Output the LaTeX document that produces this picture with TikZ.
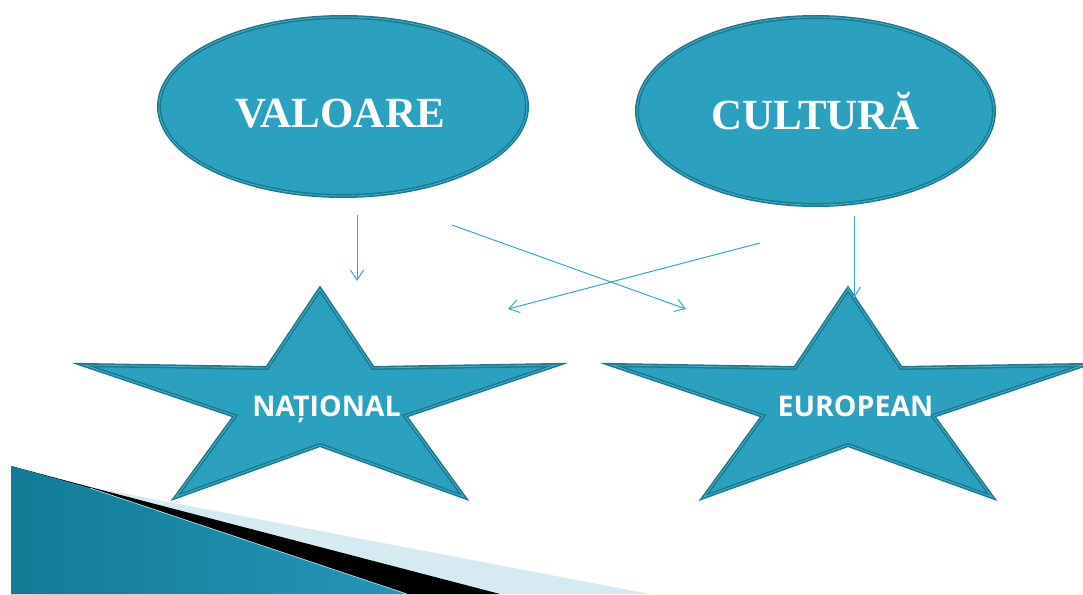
\documentclass[tikz,border=0pt]{standalone}
\usepackage{fontspec}
\usetikzlibrary{shapes.geometric,arrows.meta}
\newfontfamily\titlefont{Liberation Serif}
\newfontfamily\labelfont{Open Sans}
\definecolor{tealfill}{HTML}{2CA1BF}
\definecolor{tealdark}{HTML}{1E7A91}
\definecolor{teallight}{HTML}{45ADC8}
\definecolor{arrowcol}{HTML}{3AA7C6}
\definecolor{bandlight}{HTML}{D6EAF2}
\definecolor{wedgedark}{HTML}{127C97}
\definecolor{wedgelight}{HTML}{52B7D8}
\definecolor{wedgemid}{HTML}{2595B7}
\begin{document}
\begin{tikzpicture}[x=1pt,y=-1pt,
  shapeline/.style={fill=tealfill,draw=tealdark,double=teallight,line width=1.6pt,double distance=0.8pt},
  ovalnode/.style={shapeline,ellipse,inner sep=0pt},
  titletext/.style={text=white,font=\titlefont\bfseries\fontsize{43}{43}\selectfont,inner sep=0pt,anchor=base},
  startext/.style={text=white,font=\labelfont\bfseries\fontsize{28.5}{28.5}\selectfont,inner sep=0pt,anchor=base},
  linkarrow/.style={draw=arrowcol,line width=1pt,-{Straight Barb[length=10pt,width=13pt]}}]
\useasboundingbox (0,0) rectangle (1083,594);
\fill[white] (0,0) rectangle (1083,594);
% bottom-left decoration
\fill[bandlight] (11,466) -- (90,487) -- (650,594) -- (11,594) -- cycle;
\fill[black] (11,466) -- (90,487) -- (500,594) -- (11,594) -- cycle;
\shade[left color=wedgedark,middle color=wedgelight,right color=wedgemid] (11,466) -- (90,488) -- (407,594) -- (11,594) -- cycle;
\draw[line width=0.8pt,color=wedgelight!60!white] (90,488) -- (407,594);
% ellipses
\node[ovalnode,minimum width=368pt,minimum height=179pt] (valoare) at (343,106.5) {};
\node[ovalnode,minimum width=357pt,minimum height=188pt] (cultura) at (815.5,111) {};
\node[titletext] (tval) at (340,127) {VALOARE};
\node[titletext] (tcul) at (815.5,129) {CULTURĂ};
% stars
\foreach \cx/\nm in {320/starA,848/starB}{
  \draw[shapeline,shift={(\cx,0)}] (0,289) -- (53,368) -- (236,365) -- (85,416) -- (144,497)
    -- (0,445) -- (-144,497) -- (-85,416) -- (-236,365) -- (-53,368) -- cycle;
  \coordinate (\nm) at (\cx,405);
}
\node[startext] (tnat) at (326.5,416) {NAȚIONAL};
\node[startext] (teur) at (855.5,416) {EUROPEAN};
% arrow end points
\coordinate (a1s) at (357,215);
\coordinate (a1e) at (357,281);
\coordinate (a2s) at (452,225);
\coordinate (a2e) at (686,309);
\coordinate (a3s) at (760,243);
\coordinate (a3e) at (508,309);
\coordinate (a4s) at (854,216);
\coordinate (a4e) at (854,298);
\draw[linkarrow] (a1s) -- (a1e);
\draw[linkarrow] (a2s) -- (a2e);
\draw[linkarrow] (a3s) -- (a3e);
\draw[linkarrow] (a4s) -- (a4e);
\end{tikzpicture}
\end{document}
